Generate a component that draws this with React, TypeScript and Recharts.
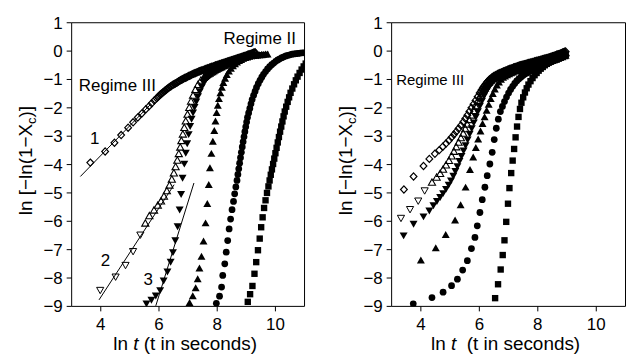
import React from 'react';
import { ScatterChart, Scatter, XAxis, YAxis, ReferenceDot } from 'recharts';

type Pt = [number, number];

const FONT = "'Liberation Sans', Arial, Helvetica, sans-serif";

// axis ticks
const xMajorTicks = [4, 6, 8, 10];
const xMinorTicks = [3, 5, 7, 9, 11];
const xTopTicks = [3, 4, 5, 6, 7, 8, 9, 10, 11];
const yMajorTicks = [-9, -8, -7, -6, -5, -4, -3, -2, -1, 0, 1];
const yMinorTicks = [-8.5, -7.5, -6.5, -5.5, -4.5, -3.5, -2.5, -1.5, -0.5, 0.5];
const yRightTicks = [-9, -8.5, -8, -7.5, -7, -6.5, -6, -5.5, -5, -4.5, -4, -3.5, -3, -2.5, -2, -1.5, -1, -0.5, 0, 0.5, 1];

// ---- left panel ----
const leftDiamond: Pt[] = [
  [3.64, -3.93], [4.15, -3.54], [4.47, -3.23], [4.70, -2.96], [4.94, -2.70], [5.11, -2.51], [5.27, -2.34], [5.41, -2.20],
  [5.55, -2.05], [5.66, -1.94], [5.75, -1.84], [5.84, -1.74], [5.92, -1.66], [6.00, -1.58], [6.07, -1.51], [6.14, -1.45],
  [6.21, -1.39], [6.28, -1.33], [6.35, -1.28], [6.42, -1.23], [6.49, -1.18], [6.56, -1.14], [6.63, -1.10], [6.70, -1.05],
  [6.77, -1.01], [6.84, -0.97], [6.91, -0.94], [6.98, -0.90], [7.05, -0.87], [7.12, -0.83], [7.19, -0.80], [7.26, -0.77],
  [7.33, -0.74], [7.40, -0.71], [7.47, -0.68], [7.54, -0.66], [7.61, -0.63], [7.68, -0.60], [7.75, -0.58], [7.82, -0.55],
  [7.89, -0.53], [7.96, -0.50], [8.03, -0.48], [8.10, -0.45], [8.17, -0.43], [8.24, -0.41], [8.31, -0.38], [8.38, -0.36],
  [8.45, -0.34], [8.52, -0.31], [8.59, -0.29], [8.66, -0.27], [8.73, -0.24], [8.80, -0.22], [8.87, -0.20], [8.94, -0.17],
  [9.01, -0.15], [9.08, -0.12], [9.15, -0.10], [9.22, -0.07], [9.30, -0.04],
];
// the diamonds sit much closer together in the dark band
const leftDiamondBand: Pt[] = [
  [5.96, -1.62], [6.04, -1.54], [6.11, -1.48], [6.18, -1.42], [6.25, -1.36], [6.32, -1.30], [6.39, -1.25], [6.46, -1.20],
  [6.53, -1.16], [6.60, -1.12], [6.67, -1.07], [6.74, -1.03], [6.81, -0.99], [6.88, -0.95], [6.95, -0.92], [7.02, -0.88],
  [7.09, -0.85], [7.16, -0.81], [7.23, -0.78], [7.30, -0.75], [7.37, -0.72], [7.44, -0.69], [7.51, -0.67], [7.58, -0.64],
  [7.65, -0.61], [7.72, -0.59], [7.79, -0.56], [7.86, -0.54], [7.93, -0.51], [8.00, -0.49], [8.07, -0.46], [8.14, -0.44],
  [8.21, -0.42], [8.28, -0.39], [8.35, -0.37], [8.42, -0.35], [8.49, -0.32], [8.56, -0.30], [8.63, -0.28], [8.70, -0.25],
  [8.77, -0.23], [8.84, -0.21], [8.91, -0.18], [8.98, -0.16], [9.05, -0.13], [9.12, -0.11], [9.19, -0.08], [9.26, -0.05],
];
const leftOpenDown: Pt[] = [[3.98, -8.42], [4.51, -7.95], [4.85, -7.54], [5.11, -7.05], [5.36, -6.47]];
const leftOpenUp: Pt[] = [
  [5.53, -6.08], [5.67, -5.82], [5.83, -5.62], [5.96, -5.45], [6.07, -5.30], [6.17, -5.13], [6.27, -4.94], [6.36, -4.74],
  [6.44, -4.53], [6.51, -4.31], [6.57, -4.09], [6.63, -3.86], [6.68, -3.63], [6.73, -3.40], [6.77, -3.17], [6.82, -2.94],
  [6.87, -2.71], [6.92, -2.48], [6.98, -2.24], [7.04, -2.00], [7.10, -1.78], [7.17, -1.57], [7.25, -1.37], [7.34, -1.19],
  [7.44, -1.04], [7.54, -0.94], [7.62, -0.87], [7.70, -0.81], [7.78, -0.76], [7.86, -0.71], [7.94, -0.66], [8.02, -0.62],
  [8.10, -0.58], [8.18, -0.54], [8.26, -0.50], [8.34, -0.46], [8.42, -0.43], [8.50, -0.39], [8.58, -0.36], [8.66, -0.33],
  [8.74, -0.30], [8.82, -0.26], [8.90, -0.23], [8.98, -0.20], [9.06, -0.17], [9.14, -0.14], [9.22, -0.11], [9.32, -0.08],
];
const leftOpenUpBand: Pt[] = [
  [7.58, -0.91], [7.66, -0.84], [7.74, -0.79], [7.82, -0.74], [7.90, -0.69], [7.98, -0.64], [8.06, -0.60], [8.14, -0.56],
  [8.22, -0.52], [8.30, -0.48], [8.38, -0.45], [8.46, -0.41], [8.54, -0.38], [8.62, -0.35], [8.70, -0.32], [8.78, -0.28],
  [8.86, -0.25], [8.94, -0.22], [9.02, -0.19], [9.10, -0.16], [9.18, -0.13], [9.27, -0.10],
];
const leftFilledDown: Pt[] = [
  [5.57, -8.89], [5.74, -8.76], [5.89, -8.61], [6.04, -8.42], [6.16, -8.08], [6.29, -7.76], [6.40, -7.42], [6.48, -7.08],
  [6.56, -6.66], [6.64, -6.17], [6.71, -5.58], [6.76, -5.03], [6.81, -4.46], [6.87, -3.96], [6.92, -3.58], [6.97, -3.24],
  [7.02, -2.92], [7.07, -2.63], [7.12, -2.38], [7.17, -2.16], [7.22, -1.96], [7.28, -1.77], [7.34, -1.58], [7.40, -1.41],
  [7.47, -1.25], [7.54, -1.11], [7.61, -0.99], [7.68, -0.89], [7.75, -0.81], [7.82, -0.74], [7.89, -0.68], [7.96, -0.63],
  [8.03, -0.58], [8.10, -0.54], [8.17, -0.50], [8.24, -0.46], [8.31, -0.43], [8.38, -0.40], [8.45, -0.37], [8.52, -0.34],
  [8.59, -0.32], [8.66, -0.29], [8.73, -0.27], [8.80, -0.25], [8.87, -0.23], [8.94, -0.21], [9.01, -0.20], [9.08, -0.18],
  [9.15, -0.17], [9.22, -0.16], [9.29, -0.15], [9.36, -0.14], [9.43, -0.14], [9.50, -0.13], [9.57, -0.13], [9.64, -0.12],
];
const leftFilledUp: Pt[] = [
  [7.05, -8.89], [7.16, -8.65], [7.26, -8.37], [7.33, -8.05], [7.39, -7.67], [7.46, -7.26], [7.53, -6.72], [7.60, -6.08],
  [7.66, -5.40], [7.71, -4.73], [7.75, -4.14], [7.80, -3.63], [7.85, -3.20], [7.90, -2.82], [7.94, -2.49], [7.98, -2.19],
  [8.02, -1.93], [8.06, -1.70], [8.11, -1.49], [8.16, -1.30], [8.21, -1.13], [8.27, -0.98], [8.33, -0.85], [8.40, -0.73],
  [8.47, -0.63], [8.54, -0.54], [8.61, -0.47], [8.68, -0.41], [8.75, -0.36], [8.82, -0.32], [8.89, -0.28], [8.96, -0.25],
  [9.03, -0.23], [9.10, -0.21], [9.17, -0.19], [9.24, -0.18], [9.31, -0.17], [9.38, -0.16], [9.45, -0.15], [9.52, -0.14],
  [9.59, -0.14], [9.66, -0.13], [9.73, -0.13],
];
const leftCircle: Pt[] = [
  [7.97, -8.89], [8.08, -8.64], [8.15, -8.32], [8.19, -7.91], [8.26, -7.50], [8.31, -7.09], [8.36, -6.68], [8.41, -6.27],
  [8.46, -5.92], [8.51, -5.59], [8.56, -5.30], [8.60, -5.03], [8.64, -4.79], [8.68, -4.56], [8.71, -4.35], [8.74, -4.15],
  [8.77, -3.95], [8.80, -3.76], [8.83, -3.57], [8.86, -3.38], [8.89, -3.20], [8.92, -3.02], [8.95, -2.84], [8.98, -2.67],
  [9.01, -2.50], [9.04, -2.34], [9.08, -2.18], [9.12, -2.02], [9.16, -1.86], [9.20, -1.71], [9.25, -1.56], [9.30, -1.42],
  [9.35, -1.28], [9.41, -1.15], [9.47, -1.03], [9.53, -0.92], [9.59, -0.82], [9.66, -0.72], [9.73, -0.63], [9.80, -0.55],
  [9.87, -0.48], [9.94, -0.42], [10.01, -0.36], [10.08, -0.31], [10.15, -0.27], [10.22, -0.23], [10.29, -0.20], [10.36, -0.17],
  [10.43, -0.15], [10.50, -0.13], [10.57, -0.11], [10.64, -0.10], [10.71, -0.09], [10.78, -0.08], [10.85, -0.07], [10.92, -0.06],
  [10.99, -0.06],
];
const leftSquare: Pt[] = [
  [9.05, -8.84], [9.13, -8.57], [9.21, -8.28], [9.28, -7.85], [9.34, -7.44], [9.40, -7.02], [9.46, -6.61], [9.51, -6.21],
  [9.56, -5.86], [9.61, -5.53], [9.66, -5.26], [9.71, -5.00], [9.76, -4.77], [9.80, -4.56], [9.84, -4.36], [9.88, -4.17],
  [9.92, -3.98], [9.96, -3.79], [10.00, -3.60], [10.04, -3.41], [10.08, -3.22], [10.12, -3.03], [10.16, -2.84], [10.20, -2.66],
  [10.24, -2.48], [10.28, -2.30], [10.32, -2.13], [10.37, -1.96], [10.42, -1.79], [10.47, -1.63], [10.52, -1.47], [10.58, -1.32],
  [10.64, -1.17], [10.70, -1.03], [10.76, -0.90], [10.83, -0.77], [10.90, -0.65], [10.97, -0.54], [11.04, -0.44],
];
const leftFit1: Pt[] = [[3.30, -4.42], [5.69, -1.90]];
const leftFit2: Pt[] = [[3.94, -8.77], [6.52, -4.71]];
const leftFit3: Pt[] = [[5.89, -8.98], [7.20, -4.65]];

// ---- right panel ----
const rightDiamond: Pt[] = [
  [3.42, -4.88], [3.75, -4.42], [4.09, -4.05], [4.29, -3.80], [4.48, -3.62], [4.63, -3.49], [4.75, -3.37], [4.86, -3.26],
  [4.96, -3.15], [5.05, -3.04], [5.13, -2.94], [5.21, -2.84], [5.29, -2.73], [5.37, -2.62], [5.45, -2.50], [5.52, -2.38],
  [5.59, -2.26], [5.66, -2.13], [5.73, -2.00], [5.80, -1.87], [5.87, -1.74], [5.94, -1.61], [6.01, -1.48], [6.08, -1.36],
  [6.15, -1.25], [6.22, -1.15], [6.29, -1.06], [6.36, -0.99], [6.43, -0.93], [6.50, -0.88], [6.57, -0.84], [6.64, -0.80],
  [6.71, -0.77], [6.78, -0.74], [6.85, -0.71], [6.92, -0.68], [6.99, -0.65], [7.06, -0.62], [7.13, -0.60], [7.20, -0.57],
  [7.27, -0.55], [7.34, -0.52], [7.41, -0.50], [7.48, -0.48], [7.55, -0.46], [7.62, -0.44], [7.69, -0.42], [7.76, -0.40],
  [7.83, -0.38], [7.90, -0.36], [7.97, -0.34], [8.04, -0.32], [8.11, -0.30], [8.18, -0.28], [8.25, -0.26], [8.32, -0.24],
  [8.39, -0.22], [8.46, -0.20], [8.53, -0.17], [8.60, -0.15], [8.67, -0.12], [8.74, -0.10], [8.81, -0.07], [8.88, -0.04],
  [8.95, -0.01],
];
const rightDiamondBand: Pt[] = [
  [6.05, -1.42], [6.12, -1.30], [6.19, -1.20], [6.26, -1.10], [6.33, -1.02], [6.40, -0.96], [6.47, -0.90], [6.54, -0.86],
  [6.61, -0.82], [6.68, -0.78], [6.75, -0.75], [6.82, -0.72], [6.89, -0.69], [6.96, -0.66], [7.03, -0.63], [7.10, -0.61],
  [7.17, -0.58], [7.24, -0.56], [7.31, -0.53], [7.38, -0.51], [7.45, -0.49], [7.52, -0.47], [7.59, -0.45], [7.66, -0.43],
  [7.73, -0.41], [7.80, -0.39], [7.87, -0.37], [7.94, -0.35], [8.01, -0.33], [8.08, -0.31], [8.15, -0.29], [8.22, -0.27],
  [8.29, -0.25], [8.36, -0.23], [8.43, -0.21], [8.50, -0.18], [8.57, -0.16], [8.64, -0.13], [8.71, -0.11], [8.78, -0.08],
  [8.85, -0.05], [8.92, -0.02],
];
const rightOpenDown: Pt[] = [[3.32, -5.88], [3.63, -5.57], [3.91, -5.27], [4.13, -4.91]];
const rightOpenUp: Pt[] = [
  [4.38, -4.64], [4.54, -4.46], [4.66, -4.33], [4.76, -4.18], [4.86, -4.03], [4.96, -3.87], [5.05, -3.71], [5.13, -3.55],
  [5.21, -3.39], [5.29, -3.23], [5.37, -3.07], [5.45, -2.91], [5.52, -2.75], [5.59, -2.59], [5.66, -2.43], [5.73, -2.27],
  [5.80, -2.11], [5.87, -1.95], [5.94, -1.79], [6.01, -1.64], [6.08, -1.50], [6.15, -1.37], [6.22, -1.25], [6.29, -1.15],
  [6.36, -1.07], [6.43, -1.00], [6.50, -0.95], [6.57, -0.91], [6.64, -0.87], [6.71, -0.84], [6.78, -0.81], [6.85, -0.78],
  [6.92, -0.75], [6.99, -0.72], [7.06, -0.69], [7.13, -0.67], [7.20, -0.64], [7.27, -0.62], [7.34, -0.59], [7.41, -0.57],
  [7.48, -0.55], [7.55, -0.53], [7.62, -0.50], [7.69, -0.48], [7.76, -0.46], [7.83, -0.44], [7.90, -0.42], [7.97, -0.40],
  [8.04, -0.38], [8.11, -0.36], [8.18, -0.34], [8.25, -0.32], [8.32, -0.30], [8.39, -0.28], [8.46, -0.26], [8.53, -0.23],
  [8.60, -0.21], [8.67, -0.18], [8.74, -0.16], [8.81, -0.13], [8.88, -0.10], [8.95, -0.07],
];
const rightOpenUpBand: Pt[] = [
  [6.05, -1.57], [6.12, -1.43], [6.19, -1.31], [6.26, -1.20], [6.33, -1.11], [6.40, -1.03], [6.47, -0.97], [6.54, -0.93],
  [6.61, -0.89], [6.68, -0.85], [6.75, -0.82], [6.82, -0.79], [6.89, -0.76], [6.96, -0.73], [7.03, -0.70], [7.10, -0.68],
  [7.17, -0.65], [7.24, -0.63], [7.31, -0.60], [7.38, -0.58], [7.45, -0.56], [7.52, -0.54], [7.59, -0.51], [7.66, -0.49],
  [7.73, -0.47], [7.80, -0.45], [7.87, -0.43], [7.94, -0.41], [8.01, -0.39], [8.08, -0.37], [8.15, -0.35], [8.22, -0.33],
  [8.29, -0.31], [8.36, -0.29], [8.43, -0.27], [8.50, -0.24], [8.57, -0.22], [8.64, -0.19], [8.71, -0.17], [8.78, -0.14],
  [8.85, -0.11], [8.92, -0.08],
];
const rightFilledDown: Pt[] = [
  [3.41, -6.49], [3.75, -6.08], [4.09, -5.82], [4.29, -5.61], [4.43, -5.43], [4.55, -5.28], [4.66, -5.14], [4.76, -5.00],
  [4.86, -4.85], [4.95, -4.70], [5.03, -4.55], [5.11, -4.39], [5.18, -4.22], [5.25, -4.05], [5.32, -3.87], [5.39, -3.69],
  [5.46, -3.50], [5.53, -3.31], [5.60, -3.11], [5.67, -2.91], [5.74, -2.71], [5.81, -2.51], [5.88, -2.31], [5.95, -2.11],
  [6.02, -1.92], [6.09, -1.74], [6.16, -1.57], [6.23, -1.42], [6.30, -1.29], [6.37, -1.18], [6.44, -1.09], [6.51, -1.02],
  [6.58, -0.97], [6.65, -0.93], [6.72, -0.89], [6.79, -0.86], [6.86, -0.83], [6.93, -0.80], [7.00, -0.77], [7.07, -0.74],
  [7.14, -0.72], [7.21, -0.69], [7.28, -0.67], [7.35, -0.64], [7.42, -0.62], [7.49, -0.60], [7.56, -0.58], [7.63, -0.55],
  [7.70, -0.53], [7.77, -0.51], [7.84, -0.49], [7.91, -0.47], [7.98, -0.45], [8.05, -0.43], [8.12, -0.41], [8.19, -0.39],
  [8.26, -0.37], [8.33, -0.35], [8.40, -0.33], [8.47, -0.31], [8.54, -0.29], [8.61, -0.26], [8.68, -0.24], [8.75, -0.21],
  [8.82, -0.18], [8.89, -0.15], [8.95, -0.12],
];
const rightFilledUp: Pt[] = [
  [4.00, -7.39], [4.51, -6.96], [4.85, -6.49], [5.17, -5.98], [5.36, -5.44], [5.53, -4.82], [5.68, -4.20], [5.79, -3.76],
  [5.88, -3.42], [5.96, -3.12], [6.04, -2.84], [6.11, -2.58], [6.18, -2.34], [6.25, -2.11], [6.32, -1.90], [6.39, -1.70],
  [6.46, -1.52], [6.53, -1.36], [6.60, -1.22], [6.67, -1.11], [6.74, -1.02], [6.81, -0.95], [6.88, -0.90], [6.95, -0.86],
  [7.02, -0.82], [7.09, -0.79], [7.16, -0.76], [7.23, -0.73], [7.30, -0.71], [7.37, -0.68], [7.44, -0.66], [7.51, -0.64],
  [7.58, -0.62], [7.65, -0.60], [7.72, -0.58], [7.79, -0.56], [7.86, -0.54], [7.93, -0.52], [8.00, -0.50], [8.07, -0.48],
  [8.14, -0.46], [8.21, -0.44], [8.28, -0.42], [8.35, -0.40], [8.42, -0.38], [8.49, -0.36], [8.56, -0.33], [8.63, -0.31],
  [8.70, -0.28], [8.77, -0.25], [8.84, -0.22], [8.91, -0.19], [8.95, -0.17],
];
const rightCircle: Pt[] = [
  [3.74, -8.91], [4.38, -8.69], [4.76, -8.50], [5.05, -8.27], [5.25, -8.04], [5.43, -7.72], [5.59, -7.39], [5.73, -6.96],
  [5.85, -6.57], [5.93, -6.16], [6.02, -5.69], [6.10, -5.24], [6.19, -4.80], [6.27, -4.39], [6.36, -3.98], [6.44, -3.57],
  [6.51, -3.12], [6.58, -2.72], [6.65, -2.40], [6.72, -2.13], [6.79, -1.95], [6.86, -1.78], [6.93, -1.62], [7.00, -1.48],
  [7.07, -1.35], [7.14, -1.24], [7.21, -1.14], [7.28, -1.05], [7.35, -0.98], [7.42, -0.92], [7.49, -0.86], [7.56, -0.81],
  [7.63, -0.77], [7.70, -0.73], [7.77, -0.69], [7.84, -0.65], [7.91, -0.61], [7.98, -0.58], [8.05, -0.55], [8.12, -0.52],
  [8.19, -0.49], [8.26, -0.46], [8.33, -0.43], [8.40, -0.40], [8.47, -0.37], [8.54, -0.34], [8.61, -0.31], [8.68, -0.28],
  [8.75, -0.25], [8.82, -0.22], [8.89, -0.19], [8.95, -0.16],
];
const rightSquare: Pt[] = [
  [6.54, -8.71], [6.64, -8.22], [6.73, -7.70], [6.80, -7.19], [6.86, -6.67], [6.92, -6.02], [6.98, -5.38], [7.03, -4.83],
  [7.09, -4.30], [7.14, -3.86], [7.19, -3.45], [7.24, -3.04], [7.29, -2.66], [7.34, -2.32], [7.39, -2.04], [7.44, -1.82],
  [7.50, -1.63], [7.56, -1.46], [7.62, -1.31], [7.68, -1.18], [7.75, -1.06], [7.82, -0.95], [7.89, -0.85], [7.96, -0.77],
  [8.03, -0.69], [8.10, -0.62], [8.17, -0.56], [8.24, -0.50], [8.31, -0.45], [8.38, -0.40], [8.45, -0.36], [8.52, -0.32],
  [8.59, -0.28], [8.66, -0.25], [8.73, -0.22], [8.80, -0.19], [8.87, -0.17], [8.94, -0.15],
];

// annotations: [text, ln t, y, font size]
const leftNotes: [string, number, number, number][] = [
  ['1', 3.79, -3.07, 17], ['2', 4.16, -7.35, 17], ['3', 5.63, -8.02, 17], ['Regime III', 4.57, -1.21, 17], ['Regime II', 9.46, 0.47, 17],
];
const rightNotes: [string, number, number, number][] = [['Regime III', 4.32, -1.01, 15]];

const toXY = (pts: Pt[]) => pts.map(([x, y]) => ({ x, y }));
const fmt = (v: number) => String(v).replace('-', '\u2212');

const marker = (kind: string) => (p: any) => {
  const { cx, cy } = p;
  if (cx == null || cy == null) return <g />;
  switch (kind) {
    case 'circle':
      return <circle cx={cx} cy={cy} r={3.4} fill="#000" />;
    case 'square':
      return <rect x={cx - 3.2} y={cy - 3.2} width={6.4} height={6.4} fill="#000" />;
    case 'up':
      return <path d={`M${cx},${cy - 4.2}L${cx + 4},${cy + 2.8}L${cx - 4},${cy + 2.8}Z`} fill="#000" />;
    case 'down':
      return <path d={`M${cx},${cy + 4.2}L${cx + 4},${cy - 2.8}L${cx - 4},${cy - 2.8}Z`} fill="#000" />;
    case 'openUp':
      return <path d={`M${cx},${cy - 3.8}L${cx + 3.6},${cy + 2.6}L${cx - 3.6},${cy + 2.6}Z`} fill="none" stroke="#000" strokeWidth={1.1} />;
    case 'openDown':
      return <path d={`M${cx},${cy + 3.8}L${cx + 3.6},${cy - 2.6}L${cx - 3.6},${cy - 2.6}Z`} fill="none" stroke="#000" strokeWidth={1} />;
    default:
      return <path d={`M${cx},${cy - 3.6}L${cx + 3.4},${cy}L${cx},${cy + 3.6}L${cx - 3.4},${cy}Z`} fill="none" stroke="#000" strokeWidth={1.2} />;
  }
};

const XLabel = (props: any) => {
  const { viewBox, gap } = props;
  const cx = viewBox.x + viewBox.width / 2 - 3;
  return (
    <text x={cx} y={viewBox.y + 44} textAnchor="middle" fontSize={19} fill="#000" fontFamily={FONT} style={{ whiteSpace: 'pre' }}>
      ln <tspan fontStyle="italic">t</tspan>{gap}(t in seconds)
    </text>
  );
};

const YLabel = (props: any) => {
  const { viewBox } = props;
  const bx = viewBox.x + viewBox.width - 40;
  const cy = viewBox.y + viewBox.height / 2 - 4;
  return (
    <text x={bx} y={cy} transform={`rotate(-90 ${bx} ${cy})`} textAnchor="middle" fontSize={19} fill="#000" fontFamily={FONT}>
      ln [{'\u2212'}ln(1{'\u2212'}X<tspan fontSize={13} dy={4}>c</tspan><tspan dy={-4}>)]</tspan>
    </text>
  );
};

interface Series { pts: Pt[]; kind: string }

interface PanelProps {
  series: Series[];
  fits: Pt[][];
  notes: [string, number, number, number][];
  axisWidth: number;
  rightMargin: number;
  gap: string;
}

const tickStyle = { fontSize: 17, fill: '#000', fontFamily: FONT };

const Panel: React.FC<PanelProps> = ({ series, fits, notes, axisWidth, rightMargin, gap }) => (
  <ScatterChart width={315} height={356} margin={{ top: 22, right: rightMargin, bottom: 0, left: 0 }}>
    <XAxis dataKey="x" type="number" domain={[3, 11]} allowDataOverflow ticks={xMajorTicks} interval={0}
      tickSize={5} tickMargin={7} height={49} stroke="#000" tick={tickStyle} tickFormatter={fmt}
      label={<XLabel gap={gap} />} />
    <XAxis xAxisId="xb" dataKey="x" type="number" domain={[3, 11]} allowDataOverflow ticks={xMinorTicks} interval={0}
      mirror height={1} tickSize={3} stroke="#000" tick={false} axisLine={false} />
    <XAxis xAxisId="xt" dataKey="x" type="number" orientation="top" domain={[3, 11]} allowDataOverflow ticks={xTopTicks}
      interval={0} mirror height={1} tickSize={4} stroke="#000" tick={false} />
    <YAxis dataKey="y" type="number" domain={[-9, 1]} allowDataOverflow ticks={yMajorTicks} interval={0}
      tickSize={5} tickMargin={4} width={axisWidth} stroke="#000" tick={tickStyle} tickFormatter={fmt}
      label={<YLabel />} />
    <YAxis yAxisId="yl" dataKey="y" type="number" domain={[-9, 1]} allowDataOverflow ticks={yMinorTicks} interval={0}
      mirror width={1} tickSize={3} stroke="#000" tick={false} axisLine={false} />
    <YAxis yAxisId="yr" dataKey="y" type="number" orientation="right" domain={[-9, 1]} allowDataOverflow ticks={yRightTicks}
      interval={0} mirror width={1} tickSize={4} stroke="#000" tick={false} />
    {series.map((s, i) => (
      <Scatter key={`s${i}`} data={toXY(s.pts)} shape={marker(s.kind)} isAnimationActive={false} />
    ))}
    {fits.map((f, i) => (
      <Scatter key={`f${i}`} data={toXY(f)} line={{ stroke: '#000', strokeWidth: 1 }} shape={() => <g />} isAnimationActive={false} />
    ))}
    {notes.map(([text, x, y, size]) => (
      <ReferenceDot key={text} x={x} y={y} r={1} fill="none" stroke="none"
        label={{ value: text, position: 'center', fontSize: size, fill: '#000', fontFamily: FONT }} />
    ))}
  </ScatterChart>
);

const leftSeries: Series[] = [
  { pts: [...leftDiamond, ...leftDiamondBand], kind: 'diamond' },
  { pts: leftOpenDown, kind: 'openDown' },
  { pts: [...leftOpenUp, ...leftOpenUpBand], kind: 'openUp' },
  { pts: leftFilledDown, kind: 'down' },
  { pts: leftFilledUp, kind: 'up' },
  { pts: leftCircle, kind: 'circle' },
  { pts: leftSquare, kind: 'square' },
];
const rightSeries: Series[] = [
  { pts: [...rightDiamond, ...rightDiamondBand], kind: 'diamond' },
  { pts: rightOpenDown, kind: 'openDown' },
  { pts: [...rightOpenUp, ...rightOpenUpBand], kind: 'openUp' },
  { pts: rightFilledDown, kind: 'down' },
  { pts: rightFilledUp, kind: 'up' },
  { pts: rightCircle, kind: 'circle' },
  { pts: rightSquare, kind: 'square' },
];

export default function App() {
  return (
    <div style={{ position: 'fixed', left: 0, top: 0, width: 627, height: 356, overflow: 'hidden', background: '#fff', display: 'flex', fontFamily: FONT }}>
      <Panel series={leftSeries} fits={[leftFit1, leftFit2, leftFit3]} notes={leftNotes} axisWidth={72} rightMargin={9} gap=" " />
      <Panel series={rightSeries} fits={[]} notes={rightNotes} axisWidth={78} rightMargin={2} gap="  " />
    </div>
  );
}
